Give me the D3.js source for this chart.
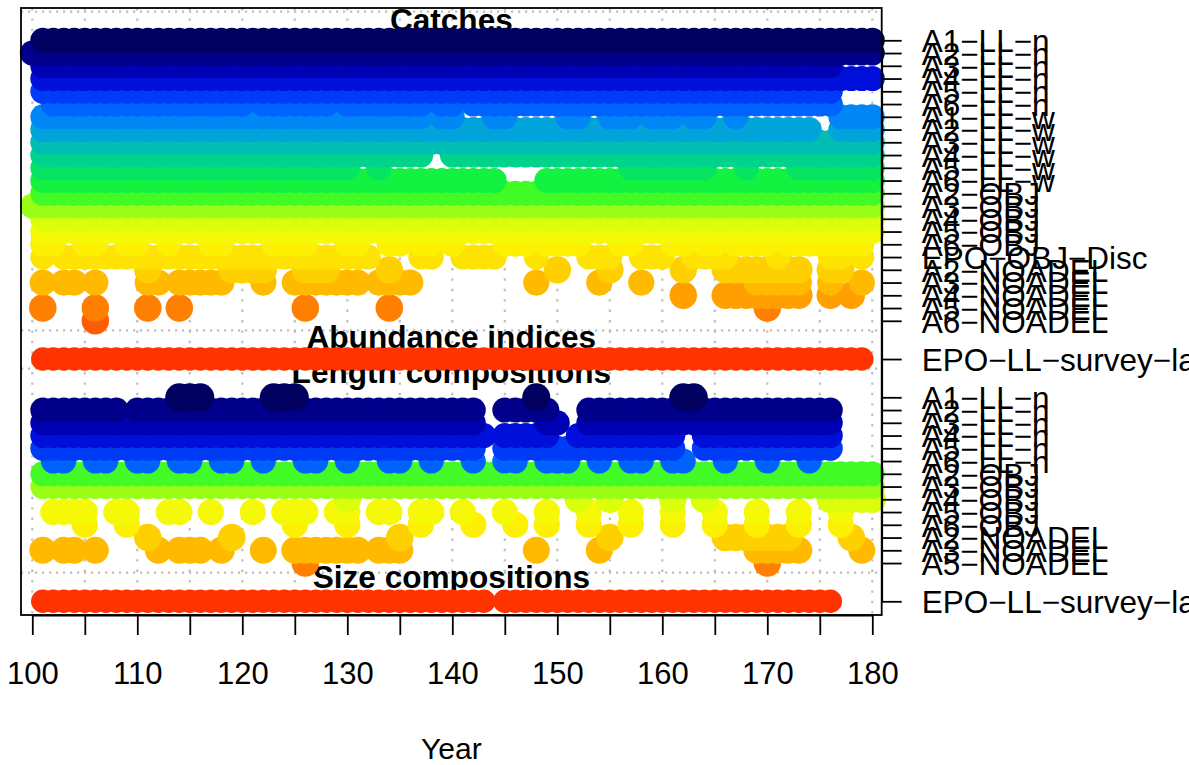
<!DOCTYPE html>
<html><head><meta charset="utf-8">
<script src="https://cdn.jsdelivr.net/npm/d3@7"></script>
<style>html,body{margin:0;padding:0;background:#fff;}svg{display:block;}</style>
</head><body>
<svg id="chart" width="1189" height="765"></svg>
<script>
// ---------------- data ----------------
const fleetNames = [
  "A1−LL−n","A2−LL−n","A3−LL−n","A4−LL−n","A5−LL−n","A6−LL−n",
  "A1−LL−w","A2−LL−w","A3−LL−w","A4−LL−w","A5−LL−w","A6−LL−w",
  "A2−OBJ","A3−OBJ","A4−OBJ","A5−OBJ","A6−OBJ","EPO−OBJ−Disc",
  "A2−NOADEL","A3−NOADEL","A4−NOADEL","A5−NOADEL","A6−NOADEL",
  "EPO−LL−survey−large"
];
const fleetColors = [
  "#000061","#00008A","#0000B4","#0010DA","#003BF5","#0063FF",
  "#0086F5","#00A4DA","#00BEB4","#01D48A","#05E561","#13F240",
  "#42FB26","#9AFF16","#DDFE0B","#F6F905","#FDF002","#FEE201",
  "#FFD000","#FFBA00","#FF9F00","#FF7F00","#FF5B00","#FF3300"
];
const sectionTitles = ["Catches","Abundance indices","Length compositions","Size compositions"];

// Catches: fleets and year runs [from, to]
const catchFleets = [1,2,3,4,5,6,7,8,9,10,11,12,13,14,15,16,17,18,19,20,21,22,23];
const catchYears = [
  [[101,180]],
  [[100,180]],
  [[101,176]],
  [[101,180]],
  [[101,176]],
  [[102,120],[122,128],[130,137],[139,140],[142,176]],
  [[101,137],[139,140],[144,145],[151,152],[155,157],[159,161],[163,164],[167,167],[177,180]],
  [[101,174],[177,180]],
  [[101,180]],
  [[101,137],[140,180]],
  [[101,130],[133,133],[157,164],[168,168],[173,180]],
  [[101,144],[149,180]],
  [[101,180]],
  [[100,180]],
  [[101,180]],
  [[101,180]],
  [[101,102],[105,106],[109,110],[113,113],[117,118],[123,126],[130,131],[134,135],[137,138],[140,140],[145,147],[149,152],[156,157],[161,162],[164,165],[167,170],[172,179]],
  [[101,101],[103,132],[137,138],[141,144],[148,148],[153,155],[158,160],[163,166],[171,171],[176,177],[179,179]],
  [[111,111],[119,122],[126,128],[134,134],[150,150],[155,155],[162,162],[166,173],[176,177]],
  [[101,101],[103,104],[106,106],[111,112],[114,118],[122,122],[125,131],[133,136],[148,148],[154,154],[158,158],[169,173],[176,176],[179,179]],
  [[162,162],[166,173],[176,176],[178,178]],
  [[101,101],[106,106],[111,111],[114,114],[126,126],[134,134],[170,170]],
  [[106,106]]
];
const catchCex = [1,1,1,1,1,1,1,1,1,1,1,1,1,1,1,1,1,1,1.1,1.05,1.1,1.1,1.1];

// Abundance indices
const indexFleets = [24];
const indexYears = [[[101,179]]];
const indexCex = [0.94];

// Length compositions
const lenFleets = [1,2,3,4,5,6,13,14,15,16,17,19,20,22];
const lenYears = [
  [[114,116],[123,125],[148,148],[162,163]],
  [[101,108],[110,142],[145,149],[153,176]],
  [[101,142],[149,150],[153,176]],
  [[101,143],[145,149],[152,161],[164,176]],
  [[101,142],[145,161],[164,176]],
  [[102,103],[106,107],[110,111],[114,115],[118,119],[122,122],[126,127],[130,130],[134,135],[138,138],[142,142],[145,146],[149,151],[154,154],[157,158],[161,162],[166,166],[170,170],[174,174]],
  [[101,180]],
  [[101,180]],
  [[130,130],[152,152],[155,155],[161,161],[164,164],[176,180]],
  [[102,105],[108,109],[113,114],[117,117],[121,121],[124,126],[129,130],[133,134],[137,138],[141,141],[145,145],[149,149],[153,153],[157,157],[161,161],[165,165],[169,169],[173,173],[177,177]],
  [[105,105],[109,109],[125,125],[130,130],[137,137],[142,142],[146,146],[149,149],[153,153],[157,157],[161,161],[165,165],[169,169],[173,173],[177,177]],
  [[111,111],[119,119],[135,135],[155,155],[166,172],[178,178]],
  [[101,101],[103,104],[106,106],[112,112],[114,116],[118,118],[122,122],[125,131],[133,135],[148,148],[154,154],[169,173],[179,179]],
  [[126,126],[170,170]]
];
const lenCex = [1.12,1,1,1,1,1,1,1,1.1,1.05,1.05,1.1,1.08,1.1];

// Size compositions
const sizeFleets = [24];
const sizeYears = [[[101,143],[145,176]]];
const sizeCex = [0.94];

// Axis ticks
const xTickValues = [100,105,110,115,120,125,130,135,140,145,150,155,160,165,170,175,180];
const xTickLabels = [100,110,120,130,140,150,160,170,180];

// ---------------- drawing ----------------
const FONT = "'Liberation Sans', Arial, Helvetica, sans-serif";
const FS_TICK = 31, FS_LAB = 31.5, FS_TITLE = 31.6, FS_XLAB = 30;
const svg = d3.select("#chart");
const box = {left: 21, right: 881.7, top: 8, bottom: 615};
const x = d3.scaleLinear().domain([100, 180]).range([32.3, 872.3]);
const y = d3.scaleLinear().domain([0, 44]).range([40.3, 601.3]);
const baseR = 12.5;

const sections = [
  {title: sectionTitles[0], fleets: catchFleets, years: catchYears, cex: catchCex, tOff: -9.6},
  {title: sectionTitles[1], fleets: indexFleets, years: indexYears, cex: indexCex, tOff: -10.6},
  {title: sectionTitles[2], fleets: lenFleets, years: lenYears, cex: lenCex, tOff: -14},
  {title: sectionTitles[3], fleets: sizeFleets, years: sizeYears, cex: sizeCex, tOff: -13.8}
];
let start = 0;
sections.forEach(s => { s.start = start; start += s.fleets.length - 1 + 3; });

// rows
const rows = [];
sections.forEach((s, si) => {
  s.fleets.forEach((f, i) => {
    const yrs = [];
    s.years[i].forEach(([a, b]) => { for (let yr = a; yr <= b; yr++) yrs.push(yr); });
    rows.push({section: si, idx: i, unit: s.start + i, fleet: f,
               name: fleetNames[f - 1], color: fleetColors[f - 1],
               r: baseR * s.cex[i], years: yrs});
  });
});

// vertical grid
svg.append("g").selectAll("line").data(xTickValues).join("line")
  .attr("x1", d => x(d)).attr("x2", d => x(d))
  .attr("y1", box.top).attr("y2", box.bottom)
  .attr("stroke", "#bebebe").attr("stroke-width", 2.2)
  .attr("stroke-dasharray", "2.4 8");

// section separators
svg.append("g").selectAll("line").data(sections).join("line")
  .attr("x1", box.left).attr("x2", box.right)
  .attr("y1", d => y(d.start - 2.25)).attr("y2", d => y(d.start - 2.25))
  .attr("stroke", "#bebebe").attr("stroke-width", 2.2)
  .attr("stroke-dasharray", "2.2 4.8");

// section titles (drawn beneath the points)
svg.append("g").selectAll("text").data(sections).join("text")
  .attr("x", (box.left + box.right) / 2)
  .attr("y", d => y(d.start) + d.tOff)
  .attr("text-anchor", "middle")
  .attr("font-family", FONT).attr("font-size", FS_TITLE).attr("font-weight", "bold")
  .text(d => d.title);

// points: within each section, first row on top
const ordered = rows.slice().sort((a, b) => (a.section - b.section) || (b.idx - a.idx));
const pg = svg.append("g");
ordered.forEach(row => {
  pg.append("g").selectAll("circle").data(row.years).join("circle")
    .attr("cx", d => x(d)).attr("cy", y(row.unit)).attr("r", row.r)
    .attr("fill", row.color);
});

// box
svg.append("rect").attr("x", box.left).attr("y", box.top)
  .attr("width", box.right - box.left).attr("height", box.bottom - box.top)
  .attr("fill", "none").attr("stroke", "#000").attr("stroke-width", 1.8);

// bottom axis
const xAxis = d3.axisBottom(x).tickValues(xTickValues)
  .tickFormat(d => xTickLabels.includes(d) ? String(d) : "")
  .tickSize(20).tickSizeOuter(0).tickPadding(27);
const gx = svg.append("g").attr("transform", `translate(0,${box.bottom})`).call(xAxis);
gx.selectAll("line,path").attr("stroke", "#000").attr("stroke-width", 1.8);
gx.selectAll("text").attr("font-family", FONT).attr("font-size", FS_TICK).attr("fill", "#000");

// right axis
const unitToName = new Map(rows.map(r => [r.unit, r.name]));
const yAxis = d3.axisRight(y).tickValues(rows.map(r => r.unit))
  .tickFormat(d => unitToName.get(d)).tickSize(20).tickSizeOuter(0).tickPadding(20);
const gy = svg.append("g").attr("transform", `translate(${box.right},0)`).call(yAxis);
gy.selectAll("line,path").attr("stroke", "#000").attr("stroke-width", 1.8);
gy.selectAll("text").attr("font-family", FONT).attr("font-size", FS_LAB).attr("fill", "#000")
  .attr("dy", "0.36em");

// x label
svg.append("text").attr("x", (box.left + box.right) / 2).attr("y", 759)
  .attr("text-anchor", "middle").attr("font-family", FONT).attr("font-size", FS_XLAB)
  .text("Year");
</script>
</body></html>
